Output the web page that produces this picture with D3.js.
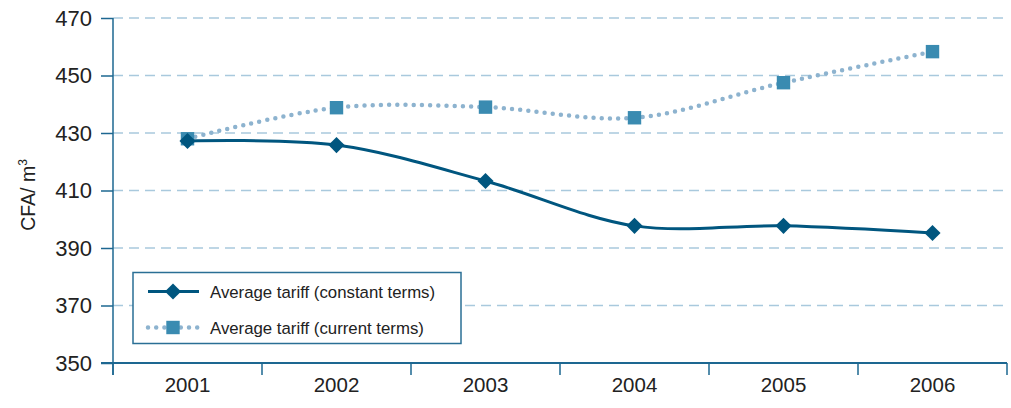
<!DOCTYPE html>
<html><head><meta charset="utf-8">
<script src="https://cdn.jsdelivr.net/npm/d3@7"></script>
<style>body{margin:0;background:#fff}svg{display:block}</style>
</head><body>
<svg id="c" width="1011" height="408"></svg>
<script>
const years = ["2001","2002","2003","2004","2005","2006"];
const constantTerms = [427.2, 425.8, 413.3, 397.7, 397.7, 395.2];
const currentTerms = [428.0, 438.8, 439.0, 435.3, 447.5, 458.3];
const yTicks = [350, 370, 390, 410, 430, 450, 470];
const seriesNames = ["Average tariff (constant terms)", "Average tariff (current terms)"];

const svg = d3.select("#c");
const font = "'Liberation Sans', Arial, sans-serif";
const axisCol = "#1d6791", gridCol = "#a9c9dd", darkCol = "#00567f", sqCol = "#3a8bb1", dotCol = "#8db3cf";

const x = d3.scaleBand().domain(years).range([113, 1007]).paddingInner(0).paddingOuter(0);
const y = d3.scaleLinear().domain([350, 470]).range([363, 18]);
const cx = d => x(d) + x.bandwidth() / 2;

// grid
svg.append("g").selectAll("line").data(yTicks.filter(t => t > 350)).join("line")
  .attr("x1", 113).attr("x2", 1007).attr("y1", d => y(d)).attr("y2", d => y(d))
  .attr("stroke", gridCol).attr("stroke-width", 1.5).attr("stroke-dasharray", "10,6");

// y axis
const yAxis = svg.append("g").attr("transform", "translate(113,0)")
  .call(d3.axisLeft(y).tickValues(yTicks).tickSize(12).tickPadding(9).tickFormat(d3.format("d")));
yAxis.select(".domain").remove();
yAxis.selectAll(".tick line").attr("stroke", axisCol).attr("stroke-width", 1.5);
yAxis.selectAll("text").attr("font-family", font).attr("font-size", 22).attr("fill", "#222");
svg.append("line").attr("x1", 113).attr("x2", 113).attr("y1", 18).attr("y2", 375)
  .attr("stroke", axisCol).attr("stroke-width", 1.5);

// x axis
const xAxis = svg.append("g").attr("transform", "translate(0,363)")
  .call(d3.axisBottom(x).tickSize(0).tickPadding(14));
xAxis.select(".domain").remove();
xAxis.selectAll("text").attr("font-family", font).attr("font-size", 20.5).attr("fill", "#222");
svg.append("line").attr("x1", 101).attr("x2", 1007).attr("y1", 363).attr("y2", 363)
  .attr("stroke", axisCol).attr("stroke-width", 2);
const bounds = years.map(d => x(d)).concat([x(years[years.length - 1]) + x.bandwidth()]);
svg.append("g").selectAll("line").data(bounds).join("line")
  .attr("x1", d => d).attr("x2", d => d).attr("y1", 363).attr("y2", 375)
  .attr("stroke", axisCol).attr("stroke-width", 1.5);

// y label
svg.append("text").attr("transform", "translate(35,195) rotate(-90)")
  .attr("text-anchor", "middle").attr("font-family", font).attr("font-size", 19.5).attr("fill", "#222")
  .text("CFA/ m").append("tspan").attr("font-size", 12).attr("dy", -8).text("3");

const line = d3.line().x((d, i) => cx(years[i])).y(d => y(d)).curve(d3.curveCatmullRom.alpha(0.5));

// current terms (dotted)
svg.append("path").attr("d", line(currentTerms)).attr("fill", "none")
  .attr("stroke", dotCol).attr("stroke-width", 4.5).attr("stroke-linecap", "round").attr("stroke-dasharray", "0,8.2");
const sq = d3.symbol().type(d3.symbolSquare).size(180);
svg.append("g").selectAll("path").data(currentTerms).join("path")
  .attr("d", sq).attr("fill", sqCol)
  .attr("transform", (d, i) => `translate(${cx(years[i])},${y(d)})`);

// constant terms (solid)
svg.append("path").attr("d", line(constantTerms)).attr("fill", "none")
  .attr("stroke", darkCol).attr("stroke-width", 3);
const dm = d3.symbol().type(d3.symbolSquare).size(130);
svg.append("g").selectAll("path").data(constantTerms).join("path")
  .attr("d", dm).attr("fill", darkCol)
  .attr("transform", (d, i) => `translate(${cx(years[i])},${y(d)}) rotate(45)`);

// legend
const lg = svg.append("g");
lg.append("rect").attr("x", 133).attr("y", 272.5).attr("width", 328).attr("height", 71)
  .attr("fill", "#fff").attr("stroke", "#2a6f95").attr("stroke-width", 1.5);
lg.append("line").attr("x1", 148).attr("x2", 199).attr("y1", 291.5).attr("y2", 291.5)
  .attr("stroke", darkCol).attr("stroke-width", 3);
lg.append("path").attr("d", dm).attr("fill", darkCol).attr("transform", "translate(173,291.5) rotate(45)");
lg.append("line").attr("x1", 148).attr("x2", 199).attr("y1", 327.5).attr("y2", 327.5)
  .attr("stroke", dotCol).attr("stroke-width", 4.5).attr("stroke-linecap", "round").attr("stroke-dasharray", "0,8.2");
lg.append("path").attr("d", sq).attr("fill", sqCol).attr("transform", "translate(173,327.5)");
lg.selectAll("text.l").data(seriesNames).join("text").attr("class", "l")
  .attr("x", 210).attr("y", (d, i) => 297.5 + i * 36)
  .attr("font-family", font).attr("font-size", 16.8).attr("fill", "#222").text(d => d);
</script>
</body></html>
